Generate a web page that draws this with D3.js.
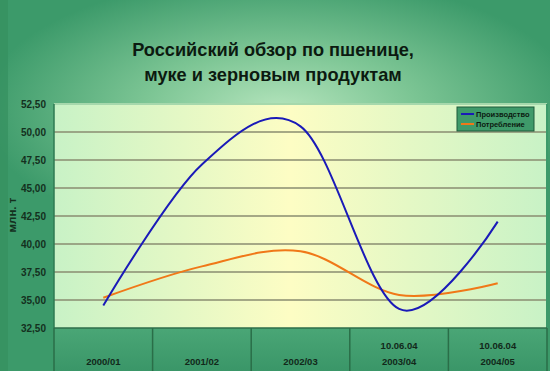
<!DOCTYPE html>
<html>
<head>
<meta charset="utf-8">
<script src="https://cdn.jsdelivr.net/npm/d3@7"></script>
<style>
  body { margin: 0; }
  svg { display: block; font-family: Arial, "Liberation Sans", sans-serif; }
</style>
</head>
<body>
<script>
var categories = ["2000/01", "2001/02", "2002/03", "2003/04", "2004/05"];
var topLabels = ["", "", "", "10.06.04", "10.06.04"];
var production = [34.5, 47.1, 50.5, 34.2, 42.0];
var consumption = [35.2, 38.0, 39.35, 35.45, 36.5];
var seriesNames = ["Производство", "Потребление"];
var yTicks = [32.5, 35, 37.5, 40, 42.5, 45, 47.5, 50, 52.5];

var width = 550, height = 371;
var plot = {left: 54, right: 547, top: 104, bottom: 328};

var svg = d3.select("body").append("svg")
    .attr("width", width)
    .attr("height", height);

var defs = svg.append("defs");

// background glow
var bg = defs.append("radialGradient")
    .attr("id", "bgGlow")
    .attr("gradientUnits", "userSpaceOnUse")
    .attr("cx", 280).attr("cy", 110).attr("r", 300)
    .attr("gradientTransform", "translate(280,110) scale(1,0.45) translate(-280,-110)");
bg.append("stop").attr("offset", "0%").attr("stop-color", "#b4e4bc");
bg.append("stop").attr("offset", "45%").attr("stop-color", "#7cc594");
bg.append("stop").attr("offset", "100%").attr("stop-color", "#3c9a6a");

var plotGrad = defs.append("linearGradient")
    .attr("id", "plotFill")
    .attr("x1", "0%").attr("x2", "100%").attr("y1", "0%").attr("y2", "0%");
plotGrad.append("stop").attr("offset", "0%").attr("stop-color", "#c8f2c6");
plotGrad.append("stop").attr("offset", "48%").attr("stop-color", "#fdfdc4");
plotGrad.append("stop").attr("offset", "100%").attr("stop-color", "#c8f2c6");

var bandGrad = defs.append("linearGradient")
    .attr("id", "bandFill")
    .attr("x1", "0%").attr("x2", "0%").attr("y1", "0%").attr("y2", "100%");
bandGrad.append("stop").attr("offset", "0%").attr("stop-color", "#4aa676");
bandGrad.append("stop").attr("offset", "100%").attr("stop-color", "#3a9668");

svg.append("rect")
    .attr("width", width).attr("height", height)
    .attr("fill", "#3c9a6a");
svg.append("rect")
    .attr("width", width).attr("height", height)
    .attr("fill", "url(#bgGlow)");
// darker left strip
svg.append("rect")
    .attr("x", 0).attr("y", 0).attr("width", 8).attr("height", height)
    .attr("fill", "#34905f").attr("opacity", 0.7);

// title
var title = svg.append("text")
    .attr("text-anchor", "middle")
    .attr("font-size", 18.2)
    .attr("font-weight", "bold")
    .attr("fill", "#0c1a10");
title.append("tspan").attr("x", 273).attr("y", 56).text("Российский обзор по пшенице,");
title.append("tspan").attr("x", 273).attr("y", 81).text("муке и зерновым продуктам");

var x = d3.scaleBand()
    .domain(categories)
    .range([plot.left, plot.right]);

var y = d3.scaleLinear()
    .domain([32.5, 52.5])
    .range([plot.bottom, plot.top]);

// plot area
svg.append("rect")
    .attr("x", plot.left).attr("y", plot.top)
    .attr("width", plot.right - plot.left)
    .attr("height", plot.bottom - plot.top)
    .attr("fill", "url(#plotFill)");

// gridlines
svg.append("g")
    .selectAll("line")
    .data(yTicks.slice(1, -1))
    .join("line")
    .attr("x1", plot.left).attr("x2", plot.right)
    .attr("y1", function(d) { return y(d); })
    .attr("y2", function(d) { return y(d); })
    .attr("stroke", "#8a8c70")
    .attr("stroke-width", 1.5);

svg.append("line")
    .attr("x1", plot.left).attr("x2", plot.right)
    .attr("y1", plot.top).attr("y2", plot.top)
    .attr("stroke", "#a6d8ac").attr("stroke-width", 2);
svg.append("line")
    .attr("x1", plot.left).attr("x2", plot.left)
    .attr("y1", plot.top).attr("y2", plot.bottom)
    .attr("stroke", "#2e7a52").attr("stroke-width", 1.5);
svg.append("line")
    .attr("x1", plot.right).attr("x2", plot.right)
    .attr("y1", plot.top).attr("y2", plot.bottom)
    .attr("stroke", "#3c9a6a").attr("stroke-width", 2);

// y axis labels
var fmt = d3.format(".2f");
svg.append("g")
    .selectAll("text")
    .data(yTicks)
    .join("text")
    .attr("x", 46)
    .attr("y", function(d) { return y(d) + 3.5; })
    .attr("text-anchor", "end")
    .attr("font-size", 10)
    .attr("font-weight", "bold")
    .attr("fill", "#14301e")
    .text(function(d) { return fmt(d).replace(".", ","); });

svg.append("text")
    .attr("transform", "translate(15.5,215) rotate(-90)")
    .attr("text-anchor", "middle")
    .attr("font-size", 11.5)
    .attr("font-weight", "bold")
    .attr("fill", "#14301e")
    .text("млн. т");

// category band under the plot
svg.append("rect")
    .attr("x", plot.left).attr("y", plot.bottom)
    .attr("width", plot.right - plot.left)
    .attr("height", height - plot.bottom)
    .attr("fill", "url(#bandFill)");
svg.append("line")
    .attr("x1", plot.left).attr("x2", plot.right)
    .attr("y1", plot.bottom).attr("y2", plot.bottom)
    .attr("stroke", "#2e6e4a").attr("stroke-width", 1.5);

var dividers = categories.map(function(c) { return x(c); }).concat([plot.right]);
svg.append("g")
    .selectAll("line")
    .data(dividers)
    .join("line")
    .attr("x1", function(d) { return d; }).attr("x2", function(d) { return d; })
    .attr("y1", plot.bottom).attr("y2", height)
    .attr("stroke", "#2a6e48").attr("stroke-width", 1.5);

var labels = svg.append("g")
    .attr("font-size", 9.5)
    .attr("font-weight", "bold")
    .attr("fill", "#12281a")
    .attr("text-anchor", "middle");
labels.selectAll(".cat")
    .data(categories)
    .join("text")
    .attr("class", "cat")
    .attr("x", function(d) { return x(d) + x.bandwidth() / 2; })
    .attr("y", 364.5)
    .text(function(d) { return d; });
labels.selectAll(".top")
    .data(categories)
    .join("text")
    .attr("class", "top")
    .attr("x", function(d) { return x(d) + x.bandwidth() / 2; })
    .attr("y", 348.5)
    .text(function(d, i) { return topLabels[i]; });

// lines
var line = d3.line()
    .x(function(d, i) { return x(categories[i]) + x.bandwidth() / 2; })
    .y(function(d) { return y(d); })
    .curve(d3.curveCardinal.tension(0));

svg.append("path")
    .datum(consumption)
    .attr("fill", "none")
    .attr("stroke", "#f07818")
    .attr("stroke-width", 2)
    .attr("d", line);

svg.append("path")
    .datum(production)
    .attr("fill", "none")
    .attr("stroke", "#1a1ab8")
    .attr("stroke-width", 2)
    .attr("d", line);

// legend
var legend = svg.append("g").attr("transform", "translate(457,107)");
legend.append("rect")
    .attr("width", 77).attr("height", 24)
    .attr("fill", "#3f9a6a")
    .attr("stroke", "#1f5a3a").attr("stroke-width", 1);
var legColors = ["#1a1ab8", "#f07818"];
seriesNames.forEach(function(name, i) {
  legend.append("line")
      .attr("x1", 4).attr("x2", 17)
      .attr("y1", 7 + i * 10).attr("y2", 7 + i * 10)
      .attr("stroke", legColors[i]).attr("stroke-width", 2);
  legend.append("text")
      .attr("x", 19).attr("y", 10 + i * 10)
      .attr("font-size", 7.5)
      .attr("font-weight", "bold")
      .attr("fill", "#0c1a10")
      .text(name);
});
</script>
</body>
</html>
